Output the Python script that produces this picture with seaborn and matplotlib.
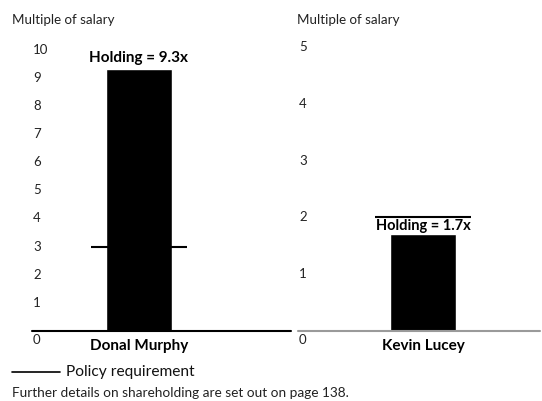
import matplotlib
matplotlib.use("Agg")
import matplotlib.pyplot as plt
import matplotlib.transforms as mtransforms
import seaborn as sns
import pandas as pd

sns.set_theme(style="white")
plt.rcParams["font.family"] = ["Lato", "DejaVu Sans"]

# Shareholding data
executives = ["Donal Murphy", "Kevin Lucey"]
holding = [9.3, 1.7]
policy = [3.0, 2.0]
y_max = [10, 5]
y_ticks = [list(range(0, 11)), list(range(0, 6))]

W, H = 542, 401
fig = plt.figure(figsize=(W / 100, H / 100), dpi=100)


def px_axes(x0, x1, y_top, y_base):
    return fig.add_axes([x0 / W, (H - y_base) / H, (x1 - x0) / W, (y_base - y_top) / H])


panels = [
    dict(ax=px_axes(32, 291, 49.5, 331), xlim=(-1.297, 1.843), base="#000000", tx=12),
    dict(ax=px_axes(298, 540, 47, 331), xlim=(-1.515, 1.42), base="#9a9a9a", tx=297),
]

for i, p in enumerate(panels):
    ax = p["ax"]
    df = pd.DataFrame({"name": [executives[i]], "holding": [holding[i]]})
    sns.barplot(data=df, x="name", y="holding", color="black", width=0.8,
                saturation=1, ax=ax)
    ax.set_xlim(*p["xlim"])
    ax.set_ylim(0, y_max[i])
    for s in ax.spines.values():
        s.set_visible(False)
    ax.axhline(0, color=p["base"], lw=1.5, zorder=3, clip_on=False)
    ax.hlines(policy[i], -0.58, 0.58, color="black", lw=1.5, zorder=1)
    ax.set_xlabel("")
    ax.set_ylabel("")
    ax.set_yticks([])
    ax.tick_params(axis="x", length=0, pad=6)
    ax.set_xticks([0])
    ax.set_xticklabels([executives[i]], fontsize=11, fontweight="bold",
                       color="black")
    trans = mtransforms.blended_transform_factory(ax.transAxes, ax.transData)
    for t in y_ticks[i]:
        if t == 0:
            ax.annotate(str(t), xy=(0.004, 0), xycoords=trans, xytext=(0, -6.5),
                        textcoords="offset points", ha="left", va="center",
                        fontsize=9.5, color="#222222")
        else:
            ax.text(0.004, t, str(t), transform=trans, ha="left", va="center",
                    fontsize=9.5, color="#222222")
    ax.annotate(f"Holding = {holding[i]}x", xy=(0, holding[i]),
                xytext=(0, 5.5 if i == 0 else 3.0), textcoords="offset points",
                ha="center", va="baseline", fontsize=11 if i == 0 else 10.5,
                fontweight="bold", color="black")
    fig.text(p["tx"] / W, 1 - 20 / H, "Multiple of salary", ha="left",
             va="center", fontsize=9.6, color="#222222")

# Legend and footnote
fig.add_artist(plt.Line2D([12 / W, 60 / W], [1 - 372 / H, 1 - 372 / H],
                          color="black", lw=1.2))
fig.text(66 / W, 1 - 372 / H, "Policy requirement", ha="left", va="center",
         fontsize=11.2, color="#111111")
fig.text(12 / W, 1 - 393 / H,
         "Further details on shareholding are set out on page 138.",
         ha="left", va="center", fontsize=9.8, color="#222222")

fig.savefig("out.png", dpi=100)
